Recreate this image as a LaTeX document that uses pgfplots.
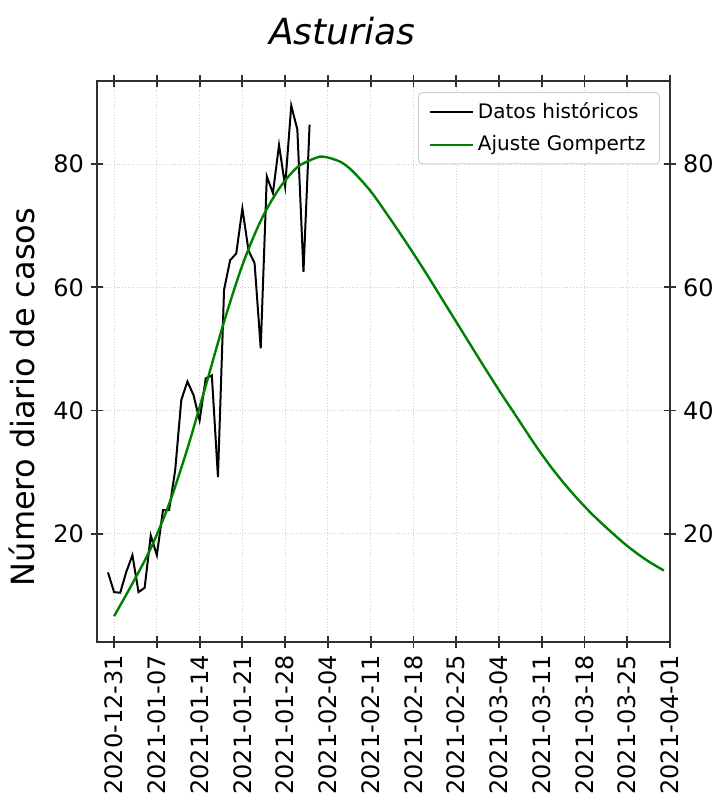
\documentclass[border=0pt]{standalone}
\usepackage{fontspec}
\setmainfont{DejaVu Sans}
\usepackage{pgfplots}
\pgfplotsset{compat=1.18}
\definecolor{mplgreen}{HTML}{008000}
\definecolor{spine}{HTML}{303030}
\begin{document}
\begin{tikzpicture}
\begin{axis}[
  at={(0,0)}, anchor=south west,
  scale only axis, width=286.5pt, height=280.5pt,
  xmin=-2.8, xmax=91, ymin=2.4, ymax=93.5,
  xtick={0,7,...,91},
  xticklabels={2020-12-31,2021-01-07,2021-01-14,2021-01-21,2021-01-28,2021-02-04,2021-02-11,2021-02-18,2021-02-25,2021-03-04,2021-03-11,2021-03-18,2021-03-25,2021-04-01},
  x tick label style={rotate=90, anchor=east, font=\fontsize{12}{14}\selectfont},
  ytick={20,40,60,80},
  y tick label style={font=\fontsize{12}{14}\selectfont},
  xtick pos=both, ytick pos=both, yticklabel pos=left, xticklabel pos=bottom,
  tick align=center,
  major tick length=6pt,
  grid=major,
  major grid style={gray!40, densely dotted, line width=0.5pt},
  axis line style={spine, line width=0.9pt},
  every tick/.style={spine, line width=0.9pt},
  /pgf/number format/assume math mode=true,
  legend image code/.code={\draw[#1] (0pt,0pt) -- (21.5pt,0pt);},
  legend style={at={(0.9825,0.980)}, anchor=north east, draw=gray!40, rounded corners=2pt,
    font=\fontsize{10}{12}\selectfont, row sep=3pt, inner xsep=5pt, inner ysep=3pt},
  legend cell align=left,
]
\addplot[black, line width=1pt] coordinates {
(-1,13.7) (0,10.5) (1,10.4) (2,13.8) (3,16.5) (4,10.5) (5,11.2) (6,19.7) (7,16.5)
(8,23.8) (9,23.8) (10,30.3) (11,41.7) (12,44.7) (13,42.5) (14,38.4) (15,45.2)
(16,45.7) (17,29.2) (18,59.6) (19,64.4) (20,65.5) (21,72.8) (22,66.0) (23,63.9)
(24,50.1) (25,78.0) (26,75.3) (27,83.1) (28,76.4) (29,89.5) (30,85.6) (31,62.5) (32,86.4)
};
\addlegendentry{Datos históricos}
\addplot[mplgreen, line width=1.2pt, smooth] coordinates {
(0,6.6) (3,11.9) (6,17.6) (9,24.8) (12,33.8) (15,44.0) (18,54.4) (21,63.6)
(24,70.8) (27,76.0) (30,79.5) (33,81.0) (34.4,81.2) (37,80.4) (39,78.9) (42,75.6)
(45,71.4) (48,67.0) (51,62.4) (54,57.6) (57,52.8) (60,48.0) (63,43.3) (66,38.8)
(69,34.3) (72,30.2) (75,26.6) (78,23.4) (81,20.6) (84,18.0) (87,15.8) (90,14.0)
};
\addlegendentry{Ajuste Gompertz}
\end{axis}
\begin{axis}[
  at={(0,0)}, anchor=south west,
  scale only axis, width=286.5pt, height=280.5pt,
  xmin=-2.8, xmax=91, ymin=2.4, ymax=93.5,
  axis x line*=bottom, axis y line*=right,
  axis line style={spine, line width=0.9pt, -},
  xtick=\empty, minor xtick={-2,-1,...,90},
  ytick={20,40,60,80}, yticklabel pos=right,
  y tick label style={font=\fontsize{12}{14}\selectfont},
  tick align=center,
  major tick length=6pt, minor tick length=3pt,
  every tick/.style={spine, line width=0.9pt},
  minor tick style={spine, line width=0.6pt},
  /pgf/number format/assume math mode=true,
]
\end{axis}
\node[font=\fontsize{18}{21}\selectfont\itshape, anchor=base] at (122.5pt,298.5pt) {Asturias};
\node[rotate=90, font=\fontsize{16}{19}\selectfont] at (-37.5pt,122.5pt) {Número diario de casos};
\pgfresetboundingbox
\path (-48.5pt,-79pt) rectangle (309pt,321pt);
\end{tikzpicture}
\end{document}
